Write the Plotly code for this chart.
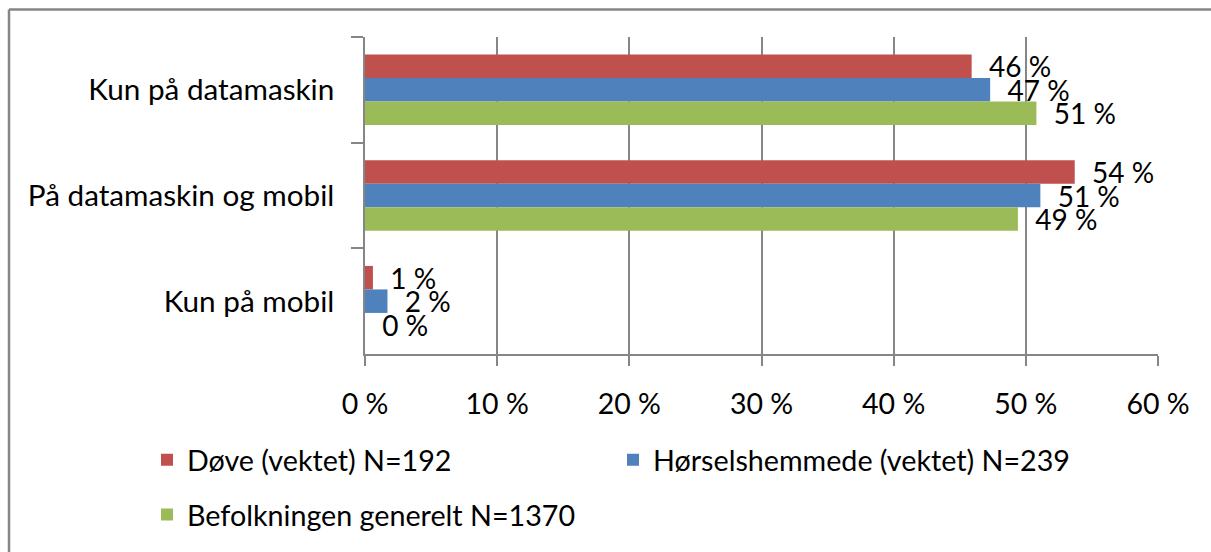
import plotly.graph_objects as go

# Categories (top to bottom) and series values in percent
categories = ["Kun på datamaskin", "På datamaskin og mobil", "Kun på mobil"]
series_names = [
    "Døve (vektet) N=192",
    "Hørselshemmede (vektet) N=239",
    "Befolkningen generelt N=1370",
]
dove = [45.9, 53.7, 0.6]
horselshemmede = [47.3, 51.1, 1.7]
befolkningen = [50.8, 49.4, 0.0]
x_ticks = [0, 10, 20, 30, 40, 50, 60]
x_tick_labels = ["0 %", "10 %", "20 %", "30 %", "40 %", "50 %", "60 %"]

colors = ["#C0504D", "#4F81BD", "#9BBB59"]
grey = "#868686"
font_family = "Lato"
W, H = 1211, 552
ML, MR, MT, MB = 365, 53, 37, 192
plot_w = W - ML - MR
plot_h = H - MT - MB


def px_to_paper_x(px):
    return (px - ML) / plot_w


def px_to_paper_y(py):
    return (H - MB - py) / plot_h


fig = go.Figure()
for name, vals, col, leg in zip(
    series_names, [dove, horselshemmede, befolkningen], colors,
    ["legend", "legend", "legend2"],
):
    fig.add_trace(go.Bar(
        y=categories, x=vals, name=name, orientation="h",
        marker=dict(color=col, line=dict(width=0)),
        texttemplate="\u00a0\u00a0%{x:.0f} %",
        textposition="outside",
        constraintext="none",
        cliponaxis=False,
        textfont=dict(family=font_family, size=28, color="black"),
        legend=leg,
    ))

fig.update_layout(
    width=W, height=H,
    margin=dict(l=ML, r=MR, t=MT, b=MB, pad=0),
    paper_bgcolor="white", plot_bgcolor="white",
    font=dict(family=font_family, size=28, color="black"),
    barmode="group", bargap=0.333, bargroupgap=0,
    xaxis=dict(
        range=[0, 60], tickmode="array", tickvals=x_ticks, ticktext=x_tick_labels,
        showgrid=True, gridcolor=grey, gridwidth=1.5,
        showline=True, linecolor=grey, linewidth=1.5,
        ticks="outside", ticklen=10, tickcolor=grey, tickwidth=1.5,
        zeroline=False, ticklabelstandoff=14,
        tickfont=dict(family=font_family, size=28.5, color="black"),
    ),
    yaxis=dict(
        categoryorder="array", categoryarray=categories, autorange="reversed",
        showline=True, linecolor=grey, linewidth=1.5,
        ticks="outside", ticklen=12, tickcolor=grey, tickwidth=1.5,
        tickson="boundaries", showgrid=False, zeroline=False,
        ticklabelstandoff=23,
        tickfont=dict(family=font_family, size=29.7, color="black"),
    ),
    legend=dict(
        orientation="h", x=px_to_paper_x(147), y=px_to_paper_y(468),
        xanchor="left", yanchor="middle",
        entrywidth=421, entrywidthmode="pixels",
        font=dict(family=font_family, size=28.7, color="black"),
        bgcolor="rgba(0,0,0,0)", itemclick=False,
    ),
    legend2=dict(
        orientation="h", x=px_to_paper_x(147), y=px_to_paper_y(524),
        xanchor="left", yanchor="middle",
        font=dict(family=font_family, size=28.7, color="black"),
        bgcolor="rgba(0,0,0,0)", itemclick=False,
    ),
    showlegend=True,
)

# Outer chart frame (left and top edges)
frame_x = px_to_paper_x(9)
frame_y = px_to_paper_y(9)
fig.add_shape(type="line", xref="paper", yref="paper",
              x0=frame_x, x1=frame_x, y0=-1, y1=frame_y,
              line=dict(color=grey, width=2.5))
fig.add_shape(type="line", xref="paper", yref="paper",
              x0=frame_x, x1=1.2, y0=frame_y, y1=frame_y,
              line=dict(color=grey, width=2.5))

fig.write_html("out.html")
